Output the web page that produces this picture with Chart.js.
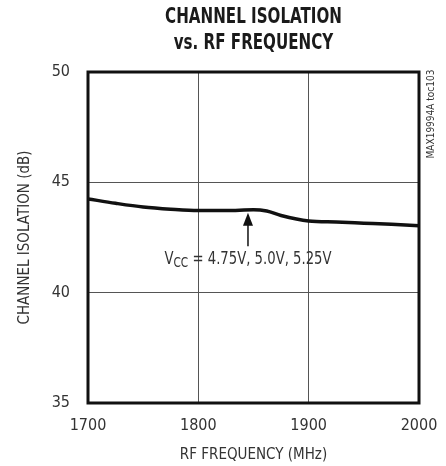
<!DOCTYPE html>
<html>
<head>
<meta charset="utf-8">
<script src="https://cdn.jsdelivr.net/npm/chart.js@4/dist/chart.umd.min.js"></script>
<style>
  body { margin: 0; background: #fff; }
  #wrap { width: 446px; height: 466px; }
</style>
</head>
<body>
<div id="wrap"><canvas id="isoChart" width="446" height="466"></canvas></div>
<script>
// 資料
const freqMHz = [1700, 1725, 1750, 1775, 1800, 1825, 1850, 1862, 1875, 1900, 1925, 1950, 1975, 2000];
const isolationDb = [44.25, 44.05, 43.88, 43.78, 43.72, 43.72, 43.76, 43.7, 43.5, 43.25, 43.2, 43.15, 43.1, 43.03];
const xTicks = [1700, 1800, 1900, 2000];
const yTicks = [35, 40, 45, 50];
const titleLines = ['CHANNEL ISOLATION', 'vs. RF FREQUENCY'];
// 標註 (箭頭和文字的位置, 以資料座標)
const arrowFreq = 1845;
const arrowFromDb = 42.1;
const arrowToDb = 43.62;
const labelDbBaseline = 41.32;

const FONT = '"DejaVu Sans Condensed", "Liberation Sans Narrow", "Liberation Sans", sans-serif';

// 窄字文字
function narrowText(ctx, text, x, y, sx) {
	ctx.save();
	ctx.translate(x, y);
	ctx.scale(sx, 1);
	ctx.fillText(text, 0, 0);
	ctx.restore();
}

// 標題 + 外框 + 標註
const annotatePlugin = {
	id: 'annotate',
	afterDatasetsDraw(chart) {
		const ctx = chart.ctx;
		const a = chart.chartArea;
		const xs = chart.scales.x, ys = chart.scales.y;
		ctx.save();
		// 外框
		ctx.strokeStyle = '#111';
		ctx.lineWidth = 3;
		ctx.strokeRect(a.left, a.top, a.right - a.left, a.bottom - a.top);

		// 標題
		const cx = (a.left + a.right) / 2;
		ctx.fillStyle = '#1a1a1a';
		ctx.font = 'bold 21px ' + FONT;
		ctx.textAlign = 'center';
		ctx.textBaseline = 'middle';
		narrowText(ctx, titleLines[0], cx, 18, 0.8);
		narrowText(ctx, titleLines[1], cx, 44, 0.8);

		// 箭頭
		const ax = xs.getPixelForValue(arrowFreq);
		const y0 = ys.getPixelForValue(arrowFromDb);
		const y1 = ys.getPixelForValue(arrowToDb);
		ctx.strokeStyle = '#111';
		ctx.lineWidth = 1.5;
		ctx.beginPath();
		ctx.moveTo(ax, y0);
		ctx.lineTo(ax, y1 + 10);
		ctx.stroke();
		ctx.fillStyle = '#111';
		ctx.beginPath();
		ctx.moveTo(ax, y1);
		ctx.lineTo(ax - 5, y1 + 13);
		ctx.lineTo(ax + 5, y1 + 13);
		ctx.closePath();
		ctx.fill();

		// 文字 VCC = ...
		const sx = 0.84;
		const by = ys.getPixelForValue(labelDbBaseline);
		const big = '17.5px ' + FONT, small = '14px ' + FONT;
		const rest = ' = 4.75V, 5.0V, 5.25V';
		ctx.font = big;
		const wV = ctx.measureText('V').width * sx;
		const wR = ctx.measureText(rest).width * sx;
		ctx.font = small;
		const wC = ctx.measureText('CC').width * sx;
		let x = ax - (wV + wC + wR) / 2;
		ctx.fillStyle = '#333';
		ctx.textBaseline = 'alphabetic';
		ctx.textAlign = 'left';
		ctx.font = big;
		narrowText(ctx, 'V', x, by, sx);
		x += wV;
		ctx.font = small;
		narrowText(ctx, 'CC', x, by + 3, sx);
		x += wC;
		ctx.font = big;
		narrowText(ctx, rest, x, by, sx);

		// 右側編號
		ctx.font = '10px ' + FONT;
		ctx.fillStyle = '#333';
		ctx.translate(431, 114);
		ctx.rotate(-Math.PI / 2);
		ctx.textAlign = 'center';
		ctx.textBaseline = 'middle';
		ctx.fillText('MAX19994A toc103', 0, 0);
		ctx.restore();
	}
};

new Chart(document.getElementById('isoChart'), {
	type: 'line',
	data: {
		labels: freqMHz,
		datasets: [{
			label: 'Isolation',
			data: freqMHz.map((f, i) => ({ x: f, y: isolationDb[i] })),
			borderColor: '#111',
			borderWidth: 3.5,
			pointRadius: 0,
			tension: 0.4,
			cubicInterpolationMode: 'monotone',
			fill: false
		}]
	},
	options: {
		responsive: false,
		animation: false,
		layout: { padding: { left: 0, right: 27, top: 72, bottom: 0 } },
		plugins: {
			legend: { display: false },
			tooltip: { enabled: false },
			title: { display: false }
		},
		scales: {
			x: {
				type: 'linear',
				min: 1700,
				max: 2000,
				afterBuildTicks: s => { s.ticks = xTicks.map(v => ({ value: v })); },
				afterFit: s => { s.height = 63; s.paddingLeft = 0; s.paddingRight = 0; },
				grid: { color: '#555', lineWidth: 1, drawTicks: false },
				border: { display: false },
				ticks: { color: '#333', padding: 13, font: { family: FONT, size: 16 }, maxRotation: 0, callback: v => String(v) },
				title: {
					display: true,
					text: 'RF FREQUENCY (MHz)',
					color: '#333',
					font: { family: FONT, size: 15 },
					padding: { top: 0, bottom: 2 }
				}
			},
			y: {
				min: 35,
				max: 50,
				afterBuildTicks: s => { s.ticks = yTicks.map(v => ({ value: v })); },
				afterFit: s => { s.width = 88; s.paddingTop = 0; s.paddingBottom = 0; },
				grid: { color: '#555', lineWidth: 1, drawTicks: false },
				border: { display: false },
				ticks: { color: '#333', padding: 18, font: { family: FONT, size: 16 }, callback: v => String(v) },
				title: {
					display: true,
					text: 'CHANNEL ISOLATION (dB)',
					color: '#333',
					font: { family: FONT, size: 15 },
					padding: { top: 16, bottom: 0 }
				}
			}
		}
	},
	plugins: [annotatePlugin]
});
</script>
</body>
</html>
